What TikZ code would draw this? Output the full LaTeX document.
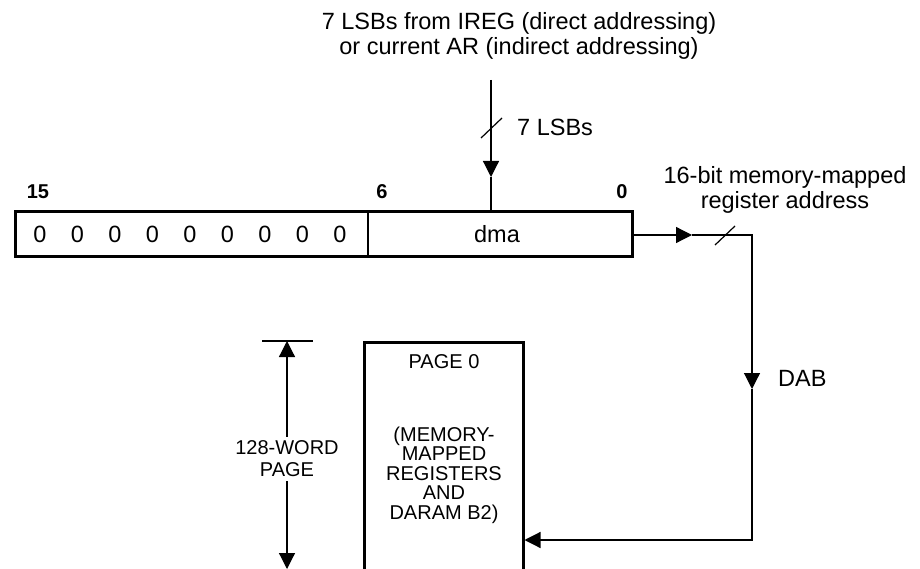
\documentclass[tikz,border=0pt]{standalone}
\usepackage{fontspec}
\setmainfont{Liberation Sans}
\usepackage{tikz}
\usetikzlibrary{arrows.meta,positioning}

\tikzset{
    tip/.tip={Triangle[length=16pt,width=16pt]},
    conn/.style={line width=1.2pt},
    txt/.style={font=\fontsize{23.5}{24}\selectfont,inner sep=0pt},
    smalltxt/.style={font=\fontsize{20}{19.5}\selectfont,inner sep=0pt,align=center},
    bitno/.style={font=\fontsize{20}{20}\selectfont\bfseries,inner sep=0pt},
    thickbox/.style={draw,line width=3pt,inner sep=0pt}
}

\begin{document}
\begin{tikzpicture}[x=1pt,y=-1pt]
    \clip (0,0) rectangle (920,569);

    % register with bit fields
    \node[thickbox,minimum width=617pt,minimum height=45pt] (reg) at (323.5,234) {};
    \draw[conn] (368,211) -- (368,257);
    \foreach \i in {0,...,8} {
        \node[txt] (zero\i) at (40+37.5*\i,234) {0};
    }
    \node[txt] (dma) at (497,234) {dma};
    \node[bitno] (b15) at (38,192) {15};
    \node[bitno] (b6) at (382,192) {6};
    \node[bitno] (b0) at (622,192) {0};

    % source of the 7 LSBs
    \node[txt,align=center,font=\fontsize{23.5}{25}\selectfont] (src) at (519,36) {7 LSBs from IREG (direct addressing)\\or current AR (indirect addressing)};
    \coordinate (inTop) at (491,80);
    \coordinate (inTip) at (491,177);
    \draw[conn,-{tip}] (inTop) -- (inTip);
    \draw[conn] (inTip) -- (inTip |- reg.north);
    \draw[conn] (481,138) -- (502,118);
    \node[txt,anchor=west] (lsb) at (517,127) {7 LSBs};

    % page 0 of data memory
    \node[thickbox,minimum width=159pt,minimum height=260pt] (page) at (443.5,472) {};
    \node[smalltxt] (pg0) at (444,362) {PAGE 0};
    \node[smalltxt] (mmr) at (444,475) {(MEMORY-\\MAPPED\\REGISTERS\\AND\\DARAM B2)};

    % 16-bit address onto DAB
    \node[txt,align=center] (addr) at (785,190) {16-bit memory-mapped\\[1pt]register address};
    \coordinate (outTip) at (692,235);
    \coordinate (bend) at (752,235);
    \coordinate (dabTip) at (752,389);
    \coordinate (corner) at (752,540);
    \draw[conn,-{tip}] (reg.east |- outTip) -- (outTip);
    \draw[conn,-{tip}] (outTip) -- (bend) -- (dabTip);
    \draw[conn,-{tip}] (dabTip) -- (corner) -- (page.east |- corner);
    \draw[conn] (715,245) -- (735,226);
    \node[txt,anchor=west] (dab) at (778,378) {DAB};

    % page size
    \coordinate (dimTop) at (287,341);
    \coordinate (dimBot) at (287,569);
    \draw[line width=1.8pt] (262,341) -- (313,341);
    \draw[conn,{tip}-{tip}] (dimTop) -- (dimBot);
    \node[smalltxt,fill=white,inner sep=4pt,font=\fontsize{20}{22}\selectfont] (words) at (287,459) {128-WORD\\PAGE};
\end{tikzpicture}
\end{document}
